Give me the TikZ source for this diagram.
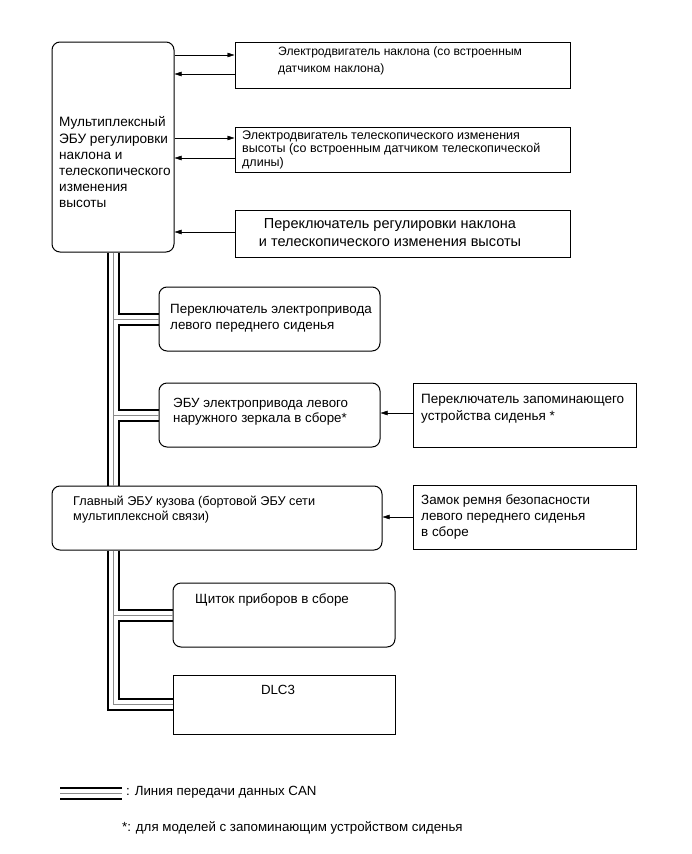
\documentclass[tikz,border=0pt]{standalone}
\usepackage{fontspec}
\setmainfont{Liberation Sans}
\usetikzlibrary{arrows.meta,calc}
\begin{document}
\begin{tikzpicture}[x=1pt,y=-1pt, > = {Triangle[length=7pt,width=4.5pt]},
  rbox/.style={draw,line width=1pt,rounded corners=8pt,inner sep=0pt},
  sbox/.style={draw,line width=1pt,inner sep=0pt},
  txt/.style 2 args={anchor=west,inner sep=0pt,align=left,font=\fontsize{#1}{#2}\selectfont},
  canb/.style={line width=2pt},
  cang/.style={line width=1pt,black!45}]
\useasboundingbox (0,0) rectangle (691,854);
% Блоки
\node[rbox,minimum width=122pt,minimum height=210pt] (ecu) at (113,147) {};
\node[txt={13.6}{16.2}] (ecu-t) at (59,162.5) {Мультиплексный\\ЭБУ регулировки\\наклона и\\телескопического\\изменения\\высоты};
\node[sbox,minimum width=335pt,minimum height=46pt] (tilt) at (402.5,65) {};
\node[txt={12.1}{17}] (tilt-t) at (278,60.5) {Электродвигатель наклона (со встроенным\\датчиком наклона)};
\node[sbox,minimum width=335pt,minimum height=45pt] (tele) at (402.5,149.5) {};
\node[txt={12.5}{13.5}] (tele-t) at (242,149.5) {Электродвигатель телескопического изменения\\высоты (со встроенным датчиком телескопической\\длины)};
\node[sbox,minimum width=335pt,minimum height=47pt] (tsw) at (402.5,233.5) {};
\node[txt={14.5}{18.3},anchor=center,align=center] (tsw-t) at (390,232.5) {Переключатель регулировки наклона\\и телескопического изменения высоты};
\node[rbox,minimum width=221pt,minimum height=64pt] (pwsw) at (269.5,319) {};
\node[txt={13.4}{16}] (pwsw-t) at (170,318) {Переключатель электропривода\\левого переднего сиденья};
\node[rbox,minimum width=221pt,minimum height=64pt] (mirror) at (269.5,415) {};
\node[txt={13.3}{15.5}] (mirror-t) at (173,411.5) {ЭБУ электропривода левого\\наружного зеркала в сборе*};
\node[sbox,minimum width=223pt,minimum height=64pt] (memsw) at (524.5,415) {};
\node[txt={13.5}{17}] (memsw-t) at (421,408.5) {Переключатель запоминающего\\устройства сиденья *};
\node[rbox,minimum width=330pt,minimum height=64pt] (body) at (217,518) {};
\node[txt={12.7}{15}] (body-t) at (73,509.5) {Главный ЭБУ кузова (бортовой ЭБУ сети\\мультиплексной связи)};
\node[sbox,minimum width=223pt,minimum height=64pt] (buckle) at (524.5,517) {};
\node[txt={13.4}{16}] (buckle-t) at (421,517) {Замок ремня безопасности\\левого переднего сиденья\\в сборе};
\node[rbox,minimum width=222pt,minimum height=64pt] (meter) at (284,615) {};
\node[txt={13.4}{16}] (meter-t) at (195,600) {Щиток приборов в сборе};
\node[sbox,minimum width=222pt,minimum height=59pt] (dlc) at (284,704.5) {};
\node[txt={13.3}{16},anchor=center] (dlc-t) at (278,690) {DLC3};
% Стрелки
\draw[->] (ecu.east |- 0,55) -- (tilt.west |- 0,55);
\draw[->] (tilt.west |- 0,74) -- (ecu.east |- 0,74);
\draw[->] (ecu.east |- 0,138) -- (tele.west |- 0,138);
\draw[->] (tele.west |- 0,158) -- (ecu.east |- 0,158);
\draw[->] (tsw.west |- 0,232) -- (ecu.east |- 0,232);
\draw[->] (memsw.west |- 0,413) -- (mirror.east |- 0,413);
\draw[->] (buckle.west |- 0,517) -- (body.east |- 0,517);
% Шина CAN
\coordinate (cl) at (107.5,0);
\coordinate (cg) at (113,0);
\coordinate (cr) at (118.5,0);
\draw[canb] (ecu.south -| cl) -- (body.north -| cl);
\draw[cang] (ecu.south -| cg) -- (body.north -| cg);
\draw[cang] (cg |- pwsw.west) -- (pwsw.west);
\draw[cang] (cg |- mirror.west) -- (mirror.west);
\draw[canb] (ecu.south -| cr) |- ([yshift=5.5pt]pwsw.west);
\draw[canb] ([yshift=-5.5pt]pwsw.west) -| ($(cr |- mirror.west)+(0,-5.5)$) -- ([yshift=5.5pt]mirror.west);
\draw[canb] ([yshift=-5.5pt]mirror.west) -| (body.north -| cr);
\draw[canb] (body.south -| cl) |- ([yshift=-5.5pt]dlc.west);
\draw[cang] (body.south -| cg) |- (dlc.west);
\draw[cang] (cg |- meter.west) -- (meter.west);
\draw[canb] (body.south -| cr) |- ([yshift=5.5pt]meter.west);
\draw[canb] ([yshift=-5.5pt]meter.west) -| ($(cr |- dlc.west)+(0,-5.5)$) -- ([yshift=5.5pt]dlc.west);
% Условные обозначения
\draw[canb] (60,788) -- (122,788);
\draw[cang] (60,793.5) -- (122,793.5);
\draw[canb] (60,799) -- (122,799);
\node[txt={13.3}{16}] (leg1) at (126,792) {: Линия передачи данных CAN};
\node[txt={13.3}{16}] (leg2) at (122,828) {*: для моделей с запоминающим устройством сиденья};
\end{tikzpicture}
\end{document}
